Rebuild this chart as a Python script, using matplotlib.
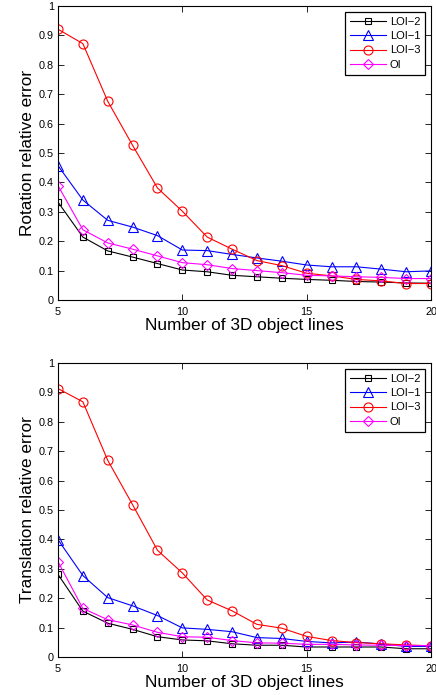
import numpy as np
import matplotlib
matplotlib.use("Agg")
import matplotlib.pyplot as plt

plt.rcParams['font.family'] = ['Liberation Sans', 'DejaVu Sans']

n_lines = list(range(5, 21))

# rotation relative error
rot_loi2 = [0.333, 0.214, 0.167, 0.146, 0.124, 0.102, 0.096, 0.084, 0.079, 0.074, 0.070, 0.067, 0.063, 0.061, 0.058, 0.057]
rot_loi1 = [0.457, 0.340, 0.271, 0.248, 0.219, 0.170, 0.168, 0.155, 0.143, 0.132, 0.119, 0.113, 0.113, 0.105, 0.096, 0.099]
rot_loi3 = [0.921, 0.872, 0.676, 0.526, 0.381, 0.302, 0.214, 0.173, 0.134, 0.117, 0.091, 0.082, 0.070, 0.065, 0.056, 0.056]
rot_oi = [0.389, 0.239, 0.194, 0.173, 0.150, 0.127, 0.120, 0.107, 0.100, 0.093, 0.084, 0.082, 0.079, 0.077, 0.073, 0.073]

# translation relative error
tr_loi2 = [0.281, 0.156, 0.115, 0.094, 0.069, 0.058, 0.055, 0.045, 0.040, 0.040, 0.034, 0.034, 0.034, 0.034, 0.028, 0.028]
tr_loi1 = [0.399, 0.277, 0.202, 0.174, 0.141, 0.099, 0.094, 0.086, 0.066, 0.063, 0.053, 0.048, 0.051, 0.044, 0.036, 0.036]
tr_loi3 = [0.913, 0.868, 0.669, 0.518, 0.363, 0.286, 0.194, 0.157, 0.111, 0.098, 0.070, 0.056, 0.049, 0.045, 0.041, 0.038]
tr_oi = [0.324, 0.165, 0.127, 0.109, 0.084, 0.069, 0.067, 0.056, 0.048, 0.047, 0.043, 0.043, 0.041, 0.040, 0.039, 0.039]

y_ticks = [0, 0.1, 0.2, 0.3, 0.4, 0.5, 0.6, 0.7, 0.8, 0.9, 1]
y_labels = ['0', '0.1', '0.2', '0.3', '0.4', '0.5', '0.6', '0.7', '0.8', '0.9', '1']


def draw_panel(ax, loi2, loi1, loi3, oi, ylabel):
    style = dict(linewidth=0.8, markerfacecolor='none', markeredgewidth=0.8)
    ax.plot(n_lines, loi2, color='black', marker='s', markersize=5, label='LOI\u22122', **style)
    ax.plot(n_lines, loi1, color='blue', marker='^', markersize=7, label='LOI\u22121', **style)
    ax.plot(n_lines, loi3, color='red', marker='o', markersize=6.5, label='LOI\u22123', **style)
    ax.plot(n_lines, oi, color='magenta', marker='D', markersize=5, label='OI', **style)
    ax.set_xlim(5, 20)
    ax.set_ylim(0, 1)
    ax.set_xticks([5, 10, 15, 20])
    ax.set_yticks(y_ticks)
    ax.set_yticklabels(y_labels)
    ax.tick_params(direction='in', top=True, right=True, labelsize=7.8, length=4, width=0.6, pad=3)
    ax.tick_params(axis='x', pad=5)
    for s in ax.spines.values():
        s.set_linewidth(0.8)
    ax.set_xlabel('Number of 3D object lines', fontsize=12.4, labelpad=1)
    ax.set_ylabel(ylabel, fontsize=12.4, labelpad=3)
    leg = ax.legend(loc='upper right', fontsize=8, fancybox=False, framealpha=1,
                    edgecolor='black', handlelength=3.2, borderpad=0.45, labelspacing=0.4,
                    handletextpad=0.4, borderaxespad=0.5)
    leg.get_frame().set_linewidth(0.9)


fig = plt.figure(figsize=(4.36, 6.95), dpi=100)
ax1 = fig.add_axes([58 / 436, 1 - 300 / 695, 373 / 436, 294 / 695])
ax2 = fig.add_axes([58 / 436, 1 - 657 / 695, 373 / 436, 294 / 695])

draw_panel(ax1, rot_loi2, rot_loi1, rot_loi3, rot_oi, 'Rotation relative error')
draw_panel(ax2, tr_loi2, tr_loi1, tr_loi3, tr_oi, 'Translation relative error')

fig.savefig('out.png', dpi=100)
